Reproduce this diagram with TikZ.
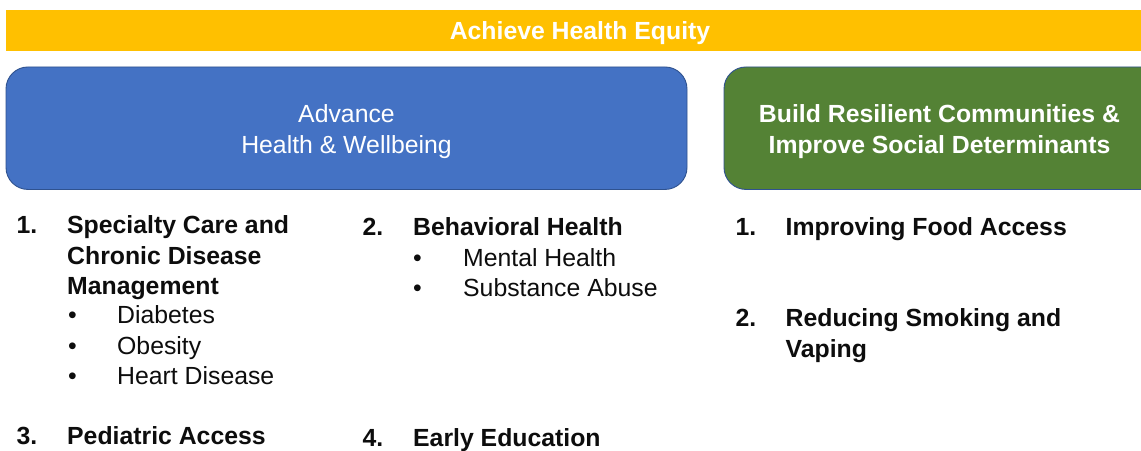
\documentclass[tikz,border=0pt]{standalone}
\usepackage{fontspec}
\setmainfont{Liberation Sans}
\definecolor{barYellow}{HTML}{FFC000}
\definecolor{boxBlue}{HTML}{4472C4}
\definecolor{boxGreen}{HTML}{548235}
\definecolor{boxEdge}{HTML}{2F528F}
\definecolor{txtDark}{HTML}{0D0D0D}
\tikzset{
  hdr/.style={font=\bfseries\fontsize{24.8}{30}\selectfont, text=txtDark, inner sep=0pt, anchor=base west},
  itm/.style={font=\fontsize{24.8}{30}\selectfont, text=txtDark, inner sep=0pt, anchor=base west},
  pillar/.style={draw=boxEdge, line width=0.9pt, rounded corners=22pt, inner sep=0pt},
  wtxt/.style={text=white, inner sep=0pt, anchor=base},
}
\begin{document}
\begin{tikzpicture}[x=1pt,y=-1pt]
\useasboundingbox (0,0) rectangle (1141,450);
\clip (0,0) rectangle (1141,450);
\fill[white] (0,0) rectangle (1141,450);
% top bar
\node[fill=barYellow, inner sep=0pt, minimum width=1144pt, minimum height=41pt] (bar) at (578,30.5) {};
\node[wtxt, font=\bfseries\fontsize{24.8}{30}\selectfont] (title) at (580,39.3) {Achieve Health Equity};
% pillars
\node[pillar, fill=boxBlue, minimum width=681pt, minimum height=122.5pt] (adv) at (346.5,128.2) {};
\node[wtxt, font=\fontsize{24.8}{30}\selectfont] (advA) at (346.5,122.7) {Advance};
\node[wtxt, font=\fontsize{24.8}{30}\selectfont] (advB) at (346.5,153.5) {Health \& Wellbeing};
\node[pillar, fill=boxGreen, minimum width=440pt, minimum height=122.5pt] (brc) at (944,128.2) {};
\node[wtxt, font=\bfseries\fontsize{24.8}{30}\selectfont] (brcA) at (939.5,122.5) {Build Resilient Communities \&};
\node[wtxt, font=\bfseries\fontsize{24.8}{30}\selectfont] (brcB) at (939.5,153) {Improve Social Determinants};
% column 1
\node[hdr] (n1) at (16.5,233.3) {1.};
\node[hdr] (h1a) at (67,233.3) {Specialty Care and};
\node[hdr] (h1b) at (67,264.3) {Chronic Disease};
\node[hdr] (h1c) at (67,294.3) {Management};
\node[itm] (b1a) at (68,323) {•};
\node[itm] (t1a) at (117,323) {Diabetes};
\node[itm] (b1b) at (68,354) {•};
\node[itm] (t1b) at (117,354) {Obesity};
\node[itm] (b1c) at (68,384) {•};
\node[itm] (t1c) at (117,384) {Heart Disease};
\node[hdr] (n3) at (16.5,444.5) {3.};
\node[hdr] (h3) at (67,444.5) {Pediatric Access};
% column 2
\node[hdr] (n2) at (362.5,235.5) {2.};
\node[hdr] (h2) at (413,235.5) {Behavioral Health};
\node[itm] (b2a) at (413,266) {•};
\node[itm] (t2a) at (463,266) {Mental Health};
\node[itm] (b2b) at (413,296.8) {•};
\node[itm] (t2b) at (463,296.8) {Substance Abuse};
\node[hdr] (n4) at (362.5,446.5) {4.};
\node[hdr] (h4) at (413,446.5) {Early Education};
% column 3
\node[hdr] (m1) at (735.5,235.5) {1.};
\node[hdr] (g1) at (785.5,235.5) {Improving Food Access};
\node[hdr] (m2) at (735.5,326.8) {2.};
\node[hdr] (g2a) at (785.5,326.8) {Reducing Smoking and};
\node[hdr] (g2b) at (785.5,357.8) {Vaping};
\end{tikzpicture}
\end{document}
